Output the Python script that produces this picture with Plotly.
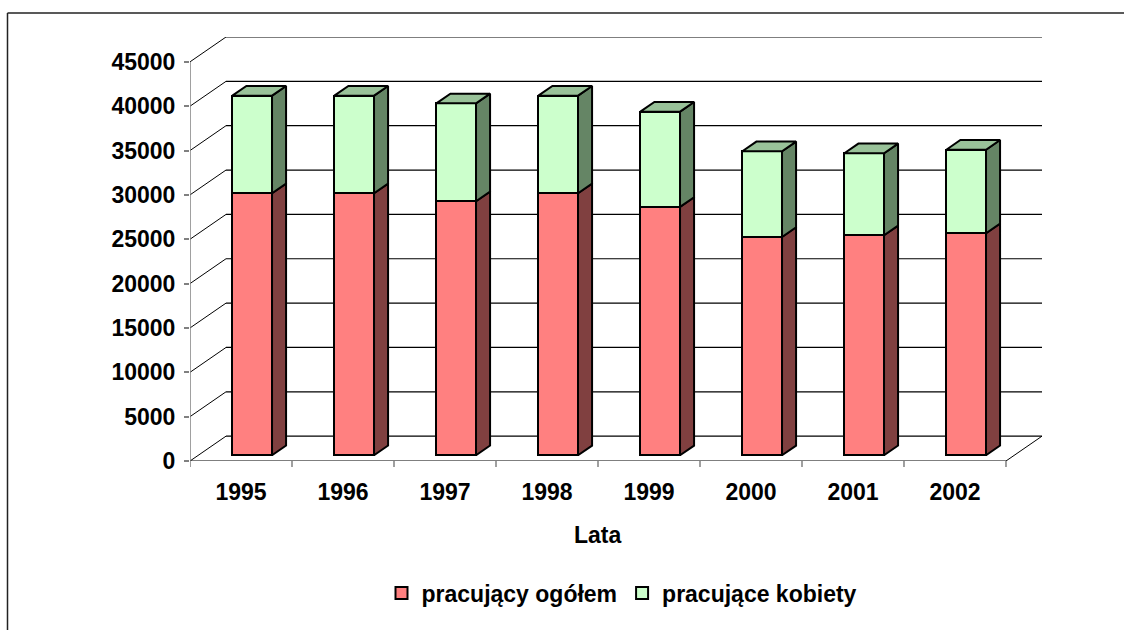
import plotly.graph_objects as go

# ---------------- data ----------------
years = ["1995", "1996", "1997", "1998", "1999", "2000", "2001", "2002"]
ogolem = [29540, 29540, 28640, 29540, 28000, 24610, 24800, 25030]
kobiety = [11000, 11000, 11040, 11000, 10740, 9660, 9250, 9420]
y_ticks = [0, 5000, 10000, 15000, 20000, 25000, 30000, 35000, 40000, 45000]
series_names = ["pracujący ogółem", "pracujące kobiety"]
axis_title = "Lata"

# ---------------- 3D projection geometry ----------------
N = len(years)
DX = 0.353          # wall depth in category units
DY = 2800           # wall depth in value units
F0 = 0.23           # depth fraction where bar front faces sit
BD = 0.39           # bar depth as fraction of wall depth
BAR_OFF = -0.166    # bar left edge relative to category centre
BAR_W = 0.389
YMAX = max(y_ticks)

FONT = "Liberation Sans, Arial, sans-serif"
FS = 23

RED, RED_SIDE = "#FF8080", "#804040"
GRN, GRN_SIDE, GRN_TOP = "#CCFFCC", "#658565", "#99C299"

centers = [i + 0.5 for i in range(N)]
bdx, bdy = BD * DX, BD * DY

fig = go.Figure()

# front faces (stacked bars) on the depth-shifted axes
fig.add_trace(go.Bar(x=centers, y=ogolem, name=series_names[0], width=BAR_W, offset=BAR_OFF,
                     marker=dict(color=RED, line=dict(color="black", width=2)),
                     xaxis="x2", yaxis="y2", hoverinfo="skip"))
fig.add_trace(go.Bar(x=centers, y=kobiety, name=series_names[1], width=BAR_W, offset=BAR_OFF,
                     marker=dict(color=GRN, line=dict(color="black", width=2)),
                     xaxis="x2", yaxis="y2", hoverinfo="skip"))


def side_faces(bottoms, tops):
    xs, ys = [], []
    for c, y0, y1 in zip(centers, bottoms, tops):
        R = c + BAR_OFF + BAR_W
        xs += [R, R + bdx, R + bdx, R, R, None]
        ys += [y0, y0 + bdy, y1 + bdy, y1, y0, None]
    return xs, ys


def top_faces(tops):
    xs, ys = [], []
    for c, t in zip(centers, tops):
        L = c + BAR_OFF
        R = L + BAR_W
        xs += [L, L + bdx, R + bdx, R, L, None]
        ys += [t, t + bdy, t + bdy, t, t, None]
    return xs, ys


totals = [a + b for a, b in zip(ogolem, kobiety)]
sx, sy = side_faces([0] * N, ogolem)
fig.add_trace(go.Scatter(x=sx, y=sy, mode="lines", fill="toself", fillcolor=RED_SIDE,
                         line=dict(color="black", width=2), showlegend=False,
                         hoverinfo="skip", xaxis="x2", yaxis="y2"))
sx, sy = side_faces(ogolem, totals)
fig.add_trace(go.Scatter(x=sx, y=sy, mode="lines", fill="toself", fillcolor=GRN_SIDE,
                         line=dict(color="black", width=2), showlegend=False,
                         hoverinfo="skip", xaxis="x2", yaxis="y2"))
tx, ty = top_faces(totals)
fig.add_trace(go.Scatter(x=tx, y=ty, mode="lines", fill="toself", fillcolor=GRN_TOP,
                         line=dict(color="black", width=2), showlegend=False,
                         hoverinfo="skip", xaxis="x2", yaxis="y2"))

# ---------------- walls / floor / gridlines ----------------
shapes = []
for v in y_ticks:
    shapes.append(dict(type="line", xref="x", yref="y", x0=DX, y0=v + DY, x1=N + DX, y1=v + DY,
                       line=dict(color="black", width=1.2), layer="below"))
    shapes.append(dict(type="line", xref="x", yref="y", x0=0, y0=v, x1=DX, y1=v + DY,
                       line=dict(color="black", width=1), layer="below"))
shapes.append(dict(type="line", xref="x", yref="y", x0=0, y0=0, x1=N, y1=0,
                   line=dict(color="black", width=1.2), layer="below"))
shapes.append(dict(type="line", xref="x", yref="y", x0=N, y0=0, x1=N + DX, y1=DY,
                   line=dict(color="black", width=1), layer="below"))
shapes.append(dict(type="line", xref="x", yref="y", x0=0, y0=0, x1=0, y1=YMAX,
                   line=dict(color="#808080", width=1.5), layer="below"))
for k in range(N + 1):
    shapes.append(dict(type="line", xref="x", yref="paper", x0=k, x1=k, y0=0, y1=-6 / 424,
                       line=dict(color="#808080", width=1.5)))
# chart-area border (left and top edges; the others lie outside the picture)
bx0, bx1 = (7.5 - 190) / 852, (1140 - 190) / 852
by0, by1 = (461 - 650) / 424, (461 - 13) / 424
shapes.append(dict(type="line", xref="paper", yref="paper", x0=bx0, x1=bx0, y0=by0, y1=by1,
                   line=dict(color="#222222", width=1.5)))
shapes.append(dict(type="line", xref="paper", yref="paper", x0=bx0, x1=bx1, y0=by1, y1=by1,
                   line=dict(color="#222222", width=1.5)))

fig.update_layout(
    width=1124, height=630, autosize=False,
    margin=dict(l=190, r=82, t=37, b=169, pad=0),
    paper_bgcolor="white", plot_bgcolor="white",
    barmode="stack",
    font=dict(family=FONT, size=FS, color="black", weight="bold"),
    shapes=shapes,
    xaxis=dict(range=[0, N + DX], tickvals=centers, ticktext=years, ticks="",
               showgrid=False, zeroline=False, showline=False,
               tickfont=dict(family=FONT, size=FS, color="black", weight="bold"),
               ticklabelstandoff=15),
    yaxis=dict(range=[0, YMAX + DY], tickvals=y_ticks, ticktext=[str(v) for v in y_ticks],
               ticks="outside", ticklen=5, tickcolor="#808080", tickwidth=1.5,
               showgrid=False, zeroline=False, showline=False,
               tickfont=dict(family=FONT, size=FS, color="black", weight="bold"),
               ticklabelstandoff=4),
    xaxis2=dict(overlaying="x", range=[-F0 * DX, N + DX - F0 * DX], visible=False),
    yaxis2=dict(overlaying="y", range=[-F0 * DY, YMAX + DY - F0 * DY], visible=False),
    legend=dict(orientation="h", x=(622 - 190) / 852, xanchor="center",
                y=(461 - 593) / 424, yanchor="middle", traceorder="normal",
                font=dict(family=FONT, size=FS, color="black", weight="bold"),
                bgcolor="rgba(0,0,0,0)", itemsizing="constant"),
    annotations=[dict(text=axis_title, xref="x", x=N / 2, yref="paper", y=(461 - 535) / 424,
                      showarrow=False, xanchor="center", yanchor="middle",
                      font=dict(family=FONT, size=FS, color="black", weight="bold"))],
    showlegend=True,
)

fig.write_html("out.html", config={"displayModeBar": False},
               post_script="document.body.style.margin='0';document.body.style.overflow='hidden';")
